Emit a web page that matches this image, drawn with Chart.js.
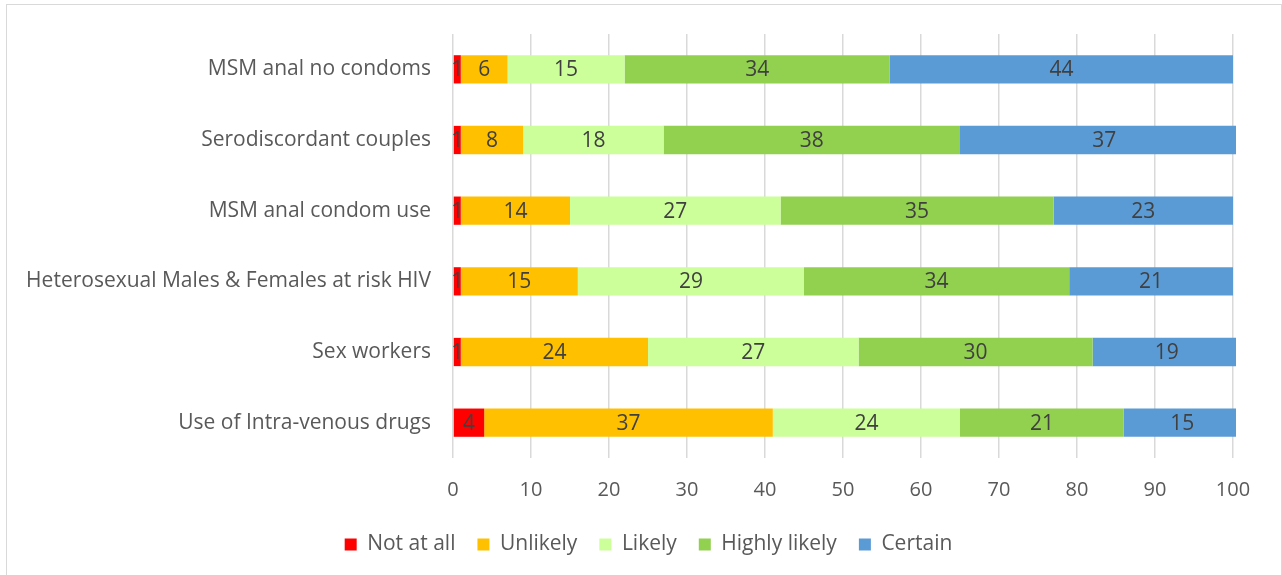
<!DOCTYPE html>
<html>
<head>
<meta charset="utf-8">
<script src="https://cdn.jsdelivr.net/npm/chart.js@4/dist/chart.umd.min.js"></script>
<style>
  html, body { margin: 0; padding: 0; background: #fff; }
  #wrap { position: relative; width: 1282px; height: 575px; overflow: hidden; }
  #frame { position: absolute; left: 6px; top: 4px; width: 1274px; height: 590px; border: 1.5px solid #d9d9d9; }
  #chart { position: absolute; left: 0; top: 0; }
</style>
</head>
<body>
<div id="wrap">
  <div id="frame"></div>
  <canvas id="chart" width="1282" height="575"></canvas>
</div>
<script>
const categories = [
  'MSM anal no condoms',
  'Serodiscordant couples',
  'MSM anal condom use',
  'Heterosexual Males & Females at risk HIV',
  'Sex workers',
  'Use of Intra-venous drugs'
];

const notAtAll     = [1, 1, 1, 1, 1, 4];
const unlikely     = [6, 8, 14, 15, 24, 37];
const likely       = [15, 18, 27, 29, 27, 24];
const highlyLikely = [34, 38, 35, 34, 30, 21];
const certain      = [44, 37, 23, 21, 19, 15];

const xTicks = [0, 10, 20, 30, 40, 50, 60, 70, 80, 90, 100];

const FONT = 'Open Sans';
const TEXT = '#595959';

// labels centred inside each segment, like Excel data labels
const segmentLabels = {
  id: 'segmentLabels',
  afterDatasetsDraw(chart) {
    const ctx = chart.ctx;
    ctx.save();
    ctx.font = '21px ' + FONT;
    ctx.fillStyle = '#404040';
    ctx.textAlign = 'center';
    ctx.textBaseline = 'middle';
    chart.data.datasets.forEach((ds, i) => {
      const meta = chart.getDatasetMeta(i);
      meta.data.forEach((bar, j) => {
        const cx = (bar.x + bar.base) / 2;
        ctx.fillText(String(ds.data[j]), cx, bar.y + 1);
      });
    });
    ctx.restore();
  }
};

// centre the legend on the whole frame, not just left of the right padding
const legendShift = {
  id: 'legendShift',
  afterLayout(chart) {
    const lg = chart.legend;
    if (!lg) return;
    lg.left += 32;
    lg.right += 32;
    lg.adjustHitBoxes();
  }
};

function ds(label, data, color) {
  return {
    label: label,
    data: data,
    backgroundColor: color,
    borderWidth: 0,
    barPercentage: 0.4,
    categoryPercentage: 1,
    clip: { left: 0, right: 3, top: false, bottom: false }
  };
}

new Chart(document.getElementById('chart'), {
  type: 'bar',
  data: {
    labels: categories,
    datasets: [
      ds('Not at all', notAtAll, '#FF0000'),
      ds('Unlikely', unlikely, '#FFC000'),
      ds('Likely', likely, '#CCFF99'),
      ds('Highly likely', highlyLikely, '#92D050'),
      ds('Certain', certain, '#5B9BD5')
    ]
  },
  options: {
    indexAxis: 'y',
    responsive: false,
    animation: false,
    layout: { padding: { left: 0, right: 49, top: 34, bottom: 10 } },
    scales: {
      x: {
        stacked: true,
        min: 0,
        max: 100,
        afterBuildTicks: (scale) => { scale.ticks = xTicks.map((v) => ({ value: v })); },
        afterFit: (scale) => { scale.height = 54; },
        grid: { color: '#d9d9d9', lineWidth: 1.5, drawTicks: false },
        border: { display: false },
        ticks: { color: TEXT, font: { family: FONT, size: 20 }, padding: 20 }
      },
      y: {
        stacked: true,
        afterFit: (scale) => { scale.width = 453; },
        grid: { display: false },
        border: { display: false },
        ticks: { color: TEXT, font: { family: FONT, size: 21 }, padding: 14 }
      }
    },
    plugins: {
      legend: {
        position: 'bottom',
        labels: {
          color: TEXT,
          font: { family: FONT, size: 21 },
          boxWidth: 12,
          boxHeight: 12,
          padding: 22
        }
      },
      tooltip: { enabled: false }
    }
  },
  plugins: [segmentLabels, legendShift]
});
</script>
</body>
</html>
